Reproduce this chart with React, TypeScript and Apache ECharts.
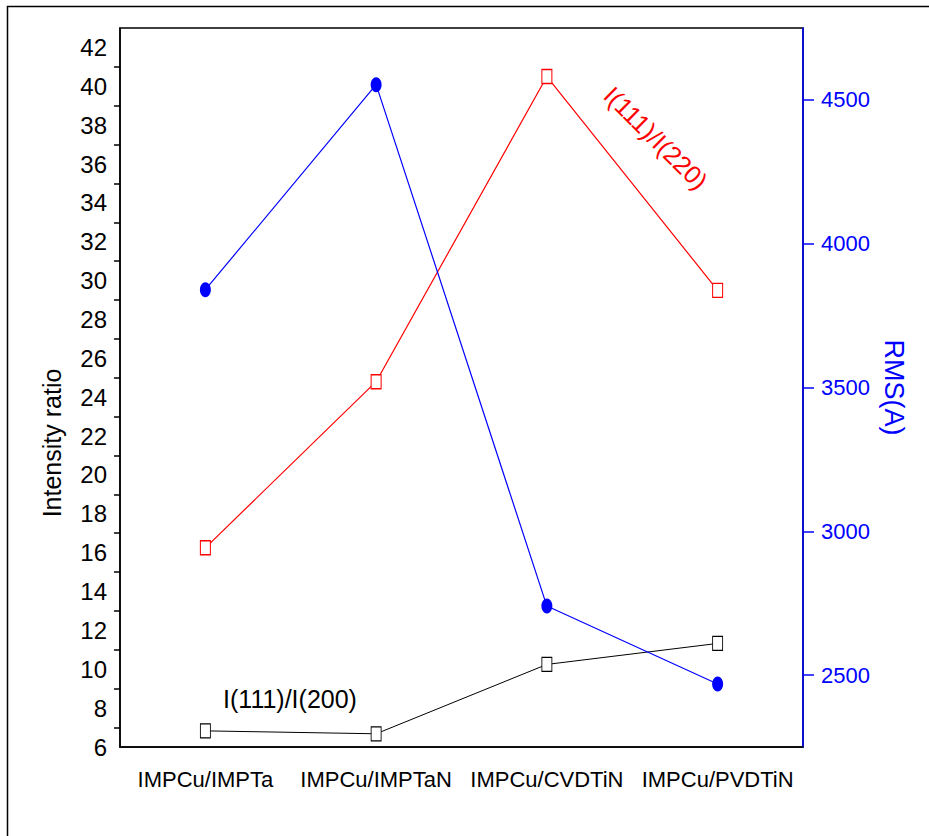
import React, { useEffect, useRef } from "react";
import * as echarts from "echarts";

const categories = ["IMPCu/IMPTa", "IMPCu/IMPTaN", "IMPCu/CVDTiN", "IMPCu/PVDTiN"];
const ratio200 = [6.83, 6.68, 10.25, 11.33];
const ratio220 = [16.25, 24.8, 40.5, 29.5];
const rms = [3840, 4553, 2740, 2469];
const rmsMajorTicks = [2500, 3000, 3500, 4000, 4500];

const SANS = "'Liberation Sans', Arial, sans-serif";

export default function App() {
  const ref = useRef<HTMLDivElement>(null);
  useEffect(() => {
    if (!ref.current) return;
    const chart = echarts.init(ref.current, null, { renderer: "svg" });
    chart.setOption({
      animation: false,
      backgroundColor: "#fff",
      grid: { left: 120, right: 126, top: 28, bottom: 89, show: true, borderColor: "#000", borderWidth: 1.5, backgroundColor: "transparent" },
      xAxis: [
        {
          type: "category",
          data: categories,
          boundaryGap: true,
          axisLine: { lineStyle: { color: "#000", width: 1.5 } },
          axisTick: { alignWithLabel: true, length: 13, lineStyle: { color: "#000", width: 1.5 } },
          axisLabel: { color: "#000", fontSize: 22, fontFamily: SANS, margin: 21, interval: 0 },
          splitLine: { show: false },
        },
        {
          type: "category",
          data: categories,
          position: "bottom",
          boundaryGap: true,
          axisLine: { show: false },
          axisTick: { length: 7, lineStyle: { color: "#000", width: 1.5 } },
          axisLabel: { show: false },
          splitLine: { show: false },
        },
      ],
      yAxis: [
        {
          type: "value",
          min: 6,
          max: 43,
          interval: 2,
          position: "left",
          axisLine: { show: true, lineStyle: { color: "#000", width: 1.5 } },
          axisTick: { length: 10, lineStyle: { color: "#000", width: 1.5 } },
          minorTick: { show: true, splitNumber: 2, length: 6, lineStyle: { color: "#000", width: 1.5 } },
          axisLabel: {
            color: "#000",
            fontSize: 24,
            fontFamily: SANS,
            margin: 13,
            showMaxLabel: false,
            formatter: (v: number) => (v % 2 === 0 && v <= 42 ? String(v) : ""),
          },
          splitLine: { show: false },
        },
        {
          type: "value",
          min: 2250,
          max: 4750,
          interval: 250,
          position: "right",
          axisLine: { show: true, lineStyle: { color: "#0000ff", width: 1.5 } },
          axisTick: { length: 7, lineStyle: { color: "#0000ff", width: 1.5 } },
          axisLabel: {
            color: "#0000ff",
            fontSize: 22,
            fontFamily: SANS,
            margin: 18,
            formatter: (v: number) => (v % 500 === 0 ? String(v) : ""),
          },
          name: "RMS(A)",
          nameLocation: "middle",
          nameRotate: -90,
          nameGap: 72,
          nameTextStyle: { color: "#0000ff", fontSize: 27, fontFamily: SANS },
          splitLine: { show: false },
        },
        {
          type: "value",
          min: 2250,
          max: 4750,
          position: "right",
          axisLine: { show: false },
          axisTick: { show: true, customValues: rmsMajorTicks, length: 11, lineStyle: { color: "#0000ff", width: 1.5 } },
          axisLabel: { show: false },
          splitLine: { show: false },
        },
      ],
      series: [
        {
          type: "line",
          name: "I(111)/I(200)",
          data: ratio200,
          xAxisIndex: 0,
          yAxisIndex: 0,
          symbol: "rect",
          symbolSize: [10, 14],
          lineStyle: { color: "#000", width: 1 },
          itemStyle: { color: "#fff", borderColor: "#000", borderWidth: 1 },
          z: 3,
        },
        {
          type: "line",
          name: "I(111)/I(220)",
          data: ratio220,
          xAxisIndex: 0,
          yAxisIndex: 0,
          symbol: "rect",
          symbolSize: [10, 14],
          lineStyle: { color: "#ff0000", width: 1.2 },
          itemStyle: { color: "#fff", borderColor: "#ff0000", borderWidth: 1.2 },
          z: 3,
        },
        {
          type: "line",
          name: "RMS",
          data: rms,
          xAxisIndex: 0,
          yAxisIndex: 1,
          symbol: "circle",
          symbolSize: [11, 15],
          lineStyle: { color: "#0000ff", width: 1.2 },
          itemStyle: { color: "#0000ff" },
          z: 3,
        },
      ],
      graphic: [
        {
          type: "rect",
          shape: { x: 7.5, y: 6.5, width: 1000, height: 1000 },
          style: { fill: "none", stroke: "#000", lineWidth: 1.5 },
          silent: true,
        },
        {
          type: "text",
          x: 52,
          y: 443,
          rotation: Math.PI / 2,
          style: { text: "Intensity ratio", fill: "#000", fontSize: 25, fontFamily: SANS, align: "center", verticalAlign: "middle" },
        },
        {
          type: "text",
          x: 290,
          y: 699,
          style: { text: "I(111)/I(200)", fill: "#000", fontSize: 25, fontFamily: SANS, align: "center", verticalAlign: "middle" },
        },
        {
          type: "text",
          x: 656,
          y: 138,
          rotation: -0.78,
          style: { text: "I(111)/I(220)", fill: "#ff0000", fontSize: 25, fontFamily: SANS, align: "center", verticalAlign: "middle" },
        },
      ],
    });
    return () => chart.dispose();
  }, []);
  return <div ref={ref} style={{ position: "fixed", left: 0, top: 0, width: 929, height: 836 }} />;
}
